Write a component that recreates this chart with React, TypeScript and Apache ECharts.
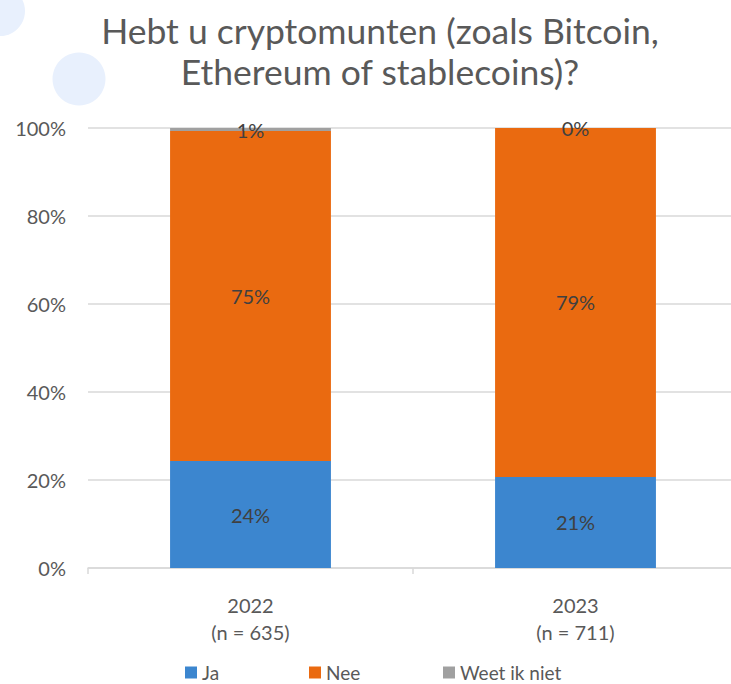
import React, { useEffect, useRef } from "react";
import * as echarts from "echarts";

const categories = ["2022\n(n = 635)", "2023\n(n = 711)"];
const jaValues = [24.3, 20.7];
const neeValues = [75.0, 79.3];
const weetValues = [0.7, 0.0];
const yTicks = [0, 20, 40, 60, 80, 100];
const seriesNames = ["Ja", "Nee", "Weet ik niet"];
const colors = ["#3c86cf", "#ea6a10", "#a0a0a0"];

const FONT = "Lato, 'Open Sans', sans-serif";

export default function App() {
  const ref = useRef<HTMLDivElement>(null);
  useEffect(() => {
    if (!ref.current) return;
    const chart = echarts.init(ref.current, undefined, { renderer: "svg" });
    const label = {
      show: true,
      position: "inside",
      color: "#404040",
      fontSize: 20,
      fontFamily: FONT,
      formatter: (p: any) => Math.round(p.value) + "%",
    };
    const legendPos = [185, 309, 443];
    chart.setOption({
      animation: false,
      backgroundColor: "#ffffff",
      textStyle: { fontFamily: FONT },
      graphic: [
        { type: "circle", shape: { cx: 0, cy: 11, r: 25 }, style: { fill: "#e8f0fd" }, z: -1 },
        { type: "circle", shape: { cx: 79, cy: 79, r: 26.5 }, style: { fill: "#e8f0fd" }, z: -1 },
        {
          type: "text",
          x: 380,
          y: 10,
          style: {
            text: "Hebt u cryptomunten (zoals Bitcoin,\nEthereum of stablecoins)?",
            fill: "#595959",
            font: `35.5px ${FONT}`,
            lineHeight: 41,
            textAlign: "center",
          },
        },
      ],
      legend: seriesNames.map((n, i) => ({
        data: [n],
        left: legendPos[i],
        top: 663,
        itemWidth: 12,
        itemHeight: 12,
        itemGap: 6,
        padding: 0,
        icon: "rect",
        textStyle: { color: "#595959", fontSize: 19, fontFamily: FONT },
      })),
      grid: { left: 88, right: 2, top: 128, bottom: 116, containLabel: false },
      xAxis: {
        type: "category",
        data: categories,
        axisLine: { lineStyle: { color: "#d9d9d9", width: 1.5 } },
        axisTick: { show: true, length: 6, lineStyle: { color: "#d9d9d9", width: 1.5 } },
        axisLabel: { color: "#595959", fontSize: 20, lineHeight: 27, margin: 23, fontFamily: FONT },
      },
      yAxis: {
        type: "value",
        min: 0,
        max: 100,
        interval: 20,
        axisLine: { show: false },
        axisTick: { show: false },
        splitLine: { lineStyle: { color: "#d9d9d9", width: 1.5 } },
        axisLabel: {
          color: "#595959",
          fontSize: 20,
          margin: 22,
          fontFamily: FONT,
          formatter: (v: number) => (yTicks.includes(v) ? v + "%" : ""),
        },
      },
      series: [
        { name: seriesNames[0], type: "bar", stack: "a", data: jaValues, barWidth: "49.5%", itemStyle: { color: colors[0] }, label },
        { name: seriesNames[1], type: "bar", stack: "a", data: neeValues, barWidth: "49.5%", itemStyle: { color: colors[1] }, label },
        { name: seriesNames[2], type: "bar", stack: "a", data: weetValues, barWidth: "49.5%", itemStyle: { color: colors[2] }, label },
      ],
    });
    return () => chart.dispose();
  }, []);
  return (
    <div
      ref={ref}
      style={{ position: "fixed", left: 0, top: 0, width: 740, height: 684, background: "#fff" }}
    />
  );
}
